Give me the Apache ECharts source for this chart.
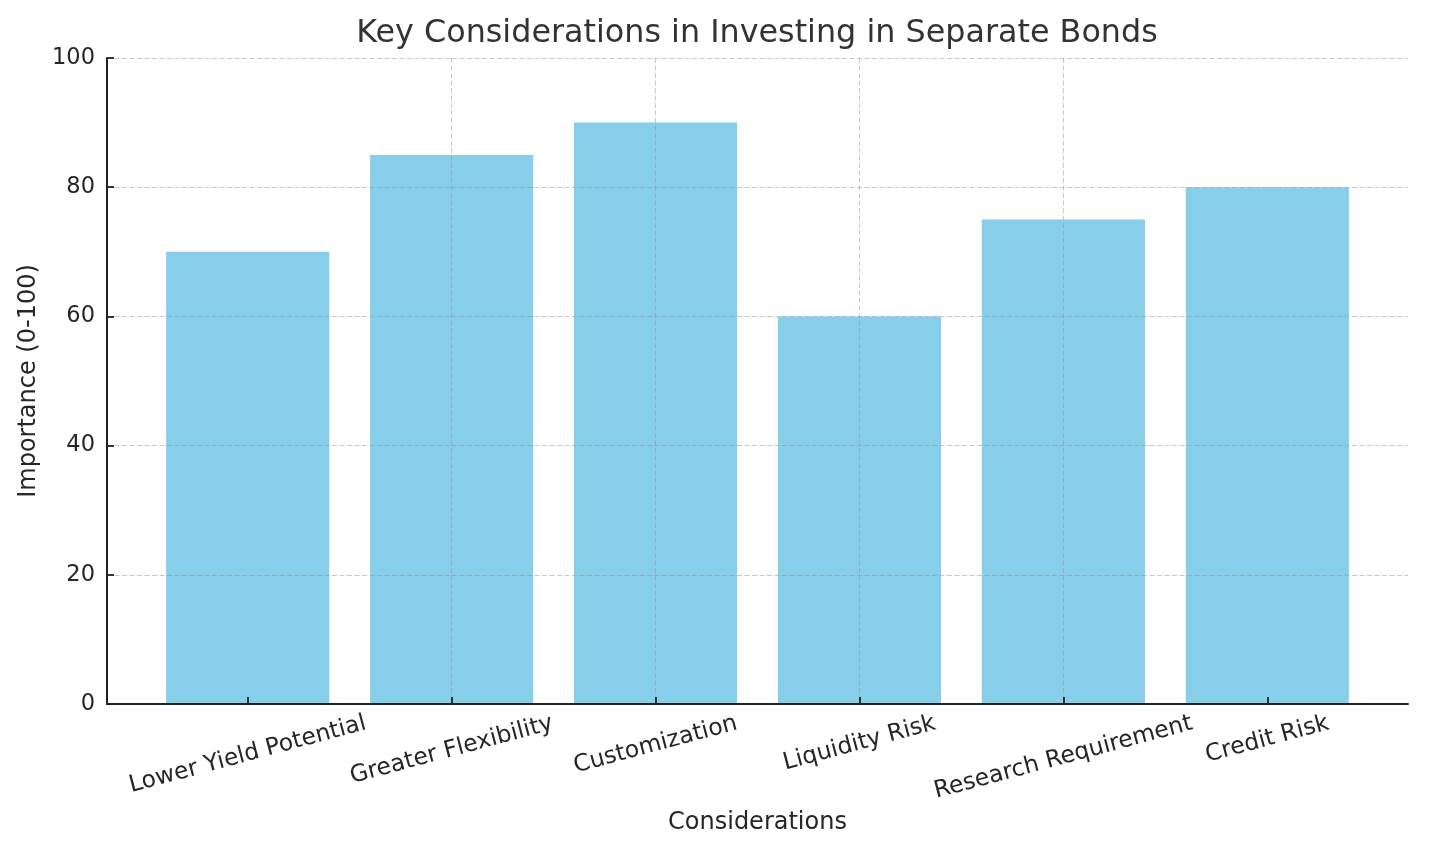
<!DOCTYPE html>
<html>
<head>
<meta charset="utf-8">
<script src="https://cdn.jsdelivr.net/npm/echarts@6/dist/echarts.min.js"></script>
<style>
  html, body { margin: 0; padding: 0; background: #fff; }
  #chart { width: 1429px; height: 857px; }
</style>
</head>
<body>
<div id="chart"></div>
<script>
// ---- data ----
const categories = ['Lower Yield Potential', 'Greater Flexibility', 'Customization', 'Liquidity Risk', 'Research Requirement', 'Credit Risk'];
const importance = [70, 85, 90, 60, 75, 80];
const yTicks = [0, 20, 40, 60, 80, 100];

const titleText = 'Key Considerations in Investing in Separate Bonds';
const xName = 'Considerations';
const yName = 'Importance (0-100)';

// ---- layout helpers ----
const FONT = '"DejaVu Sans", "Liberation Sans", sans-serif';
const xTickFont = 23.5;
const yTickFont = 22.5;
const nameFont = 24;
const ROT_DEG = 15;
const ROT = ROT_DEG * Math.PI / 180;
const TEXT = '#262626';

// bar axis limits like a plotting lib: bars of width 0.8 plus 5% margins
const barW = 0.8;
const span = (categories.length - 1) + barW;
const xMin = -barW / 2 - 0.05 * span;
const xMax = (categories.length - 1) + barW / 2 + 0.05 * span;

// per-label offset so that rotated bounding boxes share the same top edge
const ctx = document.createElement('canvas').getContext('2d');
ctx.font = xTickFont + 'px "DejaVu Sans"';
const rich = {};
categories.forEach((c, i) => {
  const w = ctx.measureText(c).width;
  const D = w * Math.sin(ROT) / 2;
  rich['c' + i] = {
    fontSize: xTickFont, fontFamily: FONT, color: TEXT,
    padding: [2 * D * Math.cos(ROT), 2 * D * Math.sin(ROT), 0, 0]
  };
});

const chart = echarts.init(document.getElementById('chart'), null, { renderer: 'canvas' });

const gridLine = { show: true, lineStyle: { color: 'rgba(150,150,150,0.52)', width: 1, type: [5, 2.5] } };

chart.setOption({
  animation: false,
  backgroundColor: '#ffffff',
  title: {
    text: titleText,
    left: 757,
    top: 18,
    padding: 0,
    textAlign: 'center',
    textStyle: { fontFamily: FONT, fontSize: 31.8, fontWeight: 'normal', color: '#333333' }
  },
  grid: { left: 107, right: 21, top: 58, bottom: 153, containLabel: false },
  xAxis: {
    type: 'value',
    min: xMin,
    max: xMax,
    z: 5,
    name: xName,
    nameLocation: 'middle',
    nameGap: 107,
    nameTextStyle: { fontFamily: FONT, fontSize: nameFont, color: TEXT },
    axisLine: { show: true, onZero: false, lineStyle: { color: '#222', width: 2 } },
    axisTick: { show: true, inside: true, length: 7, lineStyle: { color: '#222', width: 1.8 },
      customValues: categories.map((_, i) => i) },
    axisLabel: {
      customValues: categories.map((_, i) => i),
      rotate: ROT_DEG,
      margin: 19,
      align: 'center',
      verticalAlign: 'middle',
      fontFamily: FONT, fontSize: xTickFont, color: TEXT,
      formatter: (v) => {
        const i = Math.round(v);
        return '{c' + i + '|' + categories[i] + '}';
      },
      rich: rich
    },
    splitLine: Object.assign({ showMinLine: false, showMaxLine: false }, gridLine)
  },
  yAxis: {
    type: 'value',
    min: yTicks[0],
    max: yTicks[yTicks.length - 1],
    interval: yTicks[1] - yTicks[0],
    z: 5,
    name: yName,
    nameLocation: 'middle',
    nameGap: 52,
    nameRotate: 90,
    nameTextStyle: { fontFamily: FONT, fontSize: nameFont, color: TEXT },
    axisLine: { show: true, onZero: false, lineStyle: { color: '#222', width: 2 } },
    axisTick: { show: true, inside: true, length: 7, lineStyle: { color: '#222', width: 1.8 } },
    axisLabel: { margin: 12, fontFamily: FONT, fontSize: yTickFont, color: TEXT },
    splitLine: gridLine
  },
  series: [{
    type: 'bar',
    data: importance.map((v, i) => [i, v]),
    barWidth: (barW * 100) + '%',
    itemStyle: { color: '#87CEEB' },
    z: 2
  }]
});
</script>
</body>
</html>
